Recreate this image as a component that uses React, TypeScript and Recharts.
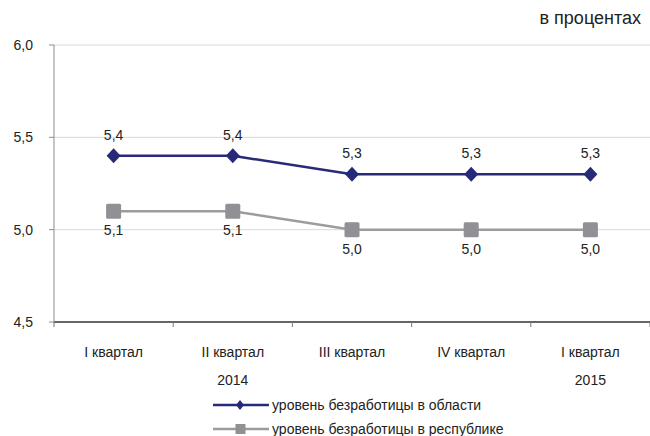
import React from 'react';
import { CartesianGrid, LabelList, Line, LineChart, XAxis, YAxis } from 'recharts';

// Quarterly unemployment rate, region vs republic (percent)
const QUARTERS = ['I квартал', 'II квартал', 'III квартал', 'IV квартал', 'I квартал'];
const YEARS = ['', '2014', '', '', '2015'];
const REGION = [5.4, 5.4, 5.3, 5.3, 5.3];
const REPUBLIC = [5.1, 5.1, 5.0, 5.0, 5.0];
const Y_TICKS = [4.5, 5, 5.5, 6];

const SERIES_NAMES = ['уровень безработицы в области', 'уровень безработицы в республике'];

const NAVY = '#262a78';
const GRAY_LINE = '#9c9c9c';
const GRAY_MARK = '#909095';
const TEXT = '#222';
const FONT = '"Liberation Sans", Arial, sans-serif';

// half of a category slot; points sit in the middle of each slot
const HALF_SLOT = 59.6;

const data = QUARTERS.map((quarter, i) => ({
  quarter,
  region: REGION[i],
  republic: REPUBLIC[i],
}));

const comma = (v: number | string) => Number(v).toFixed(1).replace('.', ',');

function Diamond(props: any) {
  const { cx, cy } = props;
  if (cx == null || cy == null) return null;
  return (
    <polygon
      points={`${cx},${cy - 7.5} ${cx + 7},${cy} ${cx},${cy + 7.5} ${cx - 7},${cy}`}
      fill={NAVY}
    />
  );
}

function Square(props: any) {
  const { cx, cy } = props;
  if (cx == null || cy == null) return null;
  return <rect x={cx - 7.5} y={cy - 7.5} width={15} height={15} rx={1.5} fill={GRAY_MARK} />;
}

// Category label + year underneath, with Excel-style tick marks between slots
function QuarterTick(props: any) {
  const { x, y, payload } = props;
  const year = YEARS[payload.index];
  return (
    <g>
      {payload.index === 0 ? (
        <line x1={x - HALF_SLOT} y1={y} x2={x - HALF_SLOT} y2={y + 5} stroke="#777" />
      ) : null}
      <line x1={x + HALF_SLOT} y1={y} x2={x + HALF_SLOT} y2={y + 5} stroke="#777" />
      <text x={x} y={y + 35} textAnchor="middle" fill={TEXT} fontSize={14} fontFamily={FONT}>
        {payload.value}
      </text>
      {year ? (
        <text x={x} y={y + 63} textAnchor="middle" fill={TEXT} fontSize={14} fontFamily={FONT}>
          {year}
        </text>
      ) : null}
    </g>
  );
}

function LegendRow({ top, kind, label }: { top: number; kind: 'diamond' | 'square'; label: string }) {
  const color = kind === 'diamond' ? NAVY : GRAY_LINE;
  return (
    <div style={{ position: 'absolute', left: 213, top, height: 16, display: 'flex', alignItems: 'center' }}>
      <svg width={56} height={16} style={{ display: 'block' }}>
        <line x1={0} y1={8} x2={56} y2={8} stroke={color} strokeWidth={2.5} />
        {kind === 'diamond' ? (
          <polygon points="27,3 31,8 27,13 23,8" fill={NAVY} />
        ) : (
          <rect x={22.5} y={3} width={10} height={10} fill={GRAY_MARK} />
        )}
      </svg>
      <span style={{ marginLeft: 3, fontSize: 14, lineHeight: '16px', color: TEXT, whiteSpace: 'nowrap' }}>
        {label}
      </span>
    </div>
  );
}

export default function App() {
  return (
    <div
      style={{
        position: 'absolute',
        left: 0,
        top: 0,
        width: 650,
        height: 436,
        overflow: 'hidden',
        background: '#fff',
        fontFamily: FONT,
      }}
    >
      <div
        style={{
          position: 'absolute',
          right: 9,
          top: 8,
          fontSize: 18,
          lineHeight: '20px',
          color: TEXT,
        }}
      >
        в процентах
      </div>
      <LineChart width={650} height={436} data={data} margin={{ top: 45, right: 0, bottom: 54, left: 0 }}>
        <CartesianGrid horizontal vertical={false} stroke="#d9d9d9" />
        <XAxis
          dataKey="quarter"
          padding={{ left: HALF_SLOT, right: HALF_SLOT }}
          axisLine={{ stroke: '#3a3a3a', strokeWidth: 1.5 }}
          tickLine={false}
          tickSize={0}
          tickMargin={0}
          interval={0}
          height={60}
          tick={<QuarterTick />}
        />
        <YAxis
          domain={[4.5, 6]}
          ticks={Y_TICKS}
          width={54}
          tickFormatter={comma}
          axisLine={{ stroke: '#8c8c8c' }}
          tickLine={{ stroke: '#8c8c8c' }}
          tickSize={5}
          tickMargin={16}
          tick={{ fill: TEXT, fontSize: 14, fontFamily: FONT }}
        />
        <Line
          dataKey="republic"
          name={SERIES_NAMES[1]}
          stroke={GRAY_LINE}
          strokeWidth={2.5}
          dot={<Square />}
          isAnimationActive={false}
        >
          <LabelList
            dataKey="republic"
            position="bottom"
            offset={14}
            formatter={comma}
            fill={TEXT}
            fontSize={14}
            fontFamily={FONT}
          />
        </Line>
        <Line
          dataKey="region"
          name={SERIES_NAMES[0]}
          stroke={NAVY}
          strokeWidth={2.5}
          dot={<Diamond />}
          isAnimationActive={false}
        >
          <LabelList
            dataKey="region"
            position="top"
            offset={16}
            formatter={comma}
            fill={TEXT}
            fontSize={14}
            fontFamily={FONT}
          />
        </Line>
      </LineChart>
      <LegendRow top={397} kind="diamond" label={SERIES_NAMES[0]} />
      <LegendRow top={421} kind="square" label={SERIES_NAMES[1]} />
    </div>
  );
}
